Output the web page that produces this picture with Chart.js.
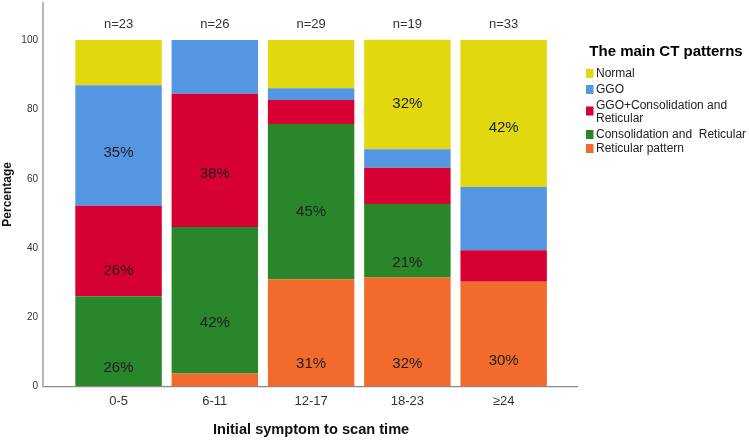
<!DOCTYPE html>
<html><head><meta charset="utf-8">
<script src="https://cdn.jsdelivr.net/npm/chart.js@4"></script>
<style>html,body{margin:0;padding:0;background:#fff}#wrap{width:749px;height:441px;position:relative}</style>
</head><body><div id="wrap"><canvas id="c" width="749" height="441"></canvas></div>
<script>
// ---- data (percent of patients in each time group) ----
const categories = ['0-5', '6-11', '12-17', '18-23', '\u226524'];
const sampleSizes = [23, 26, 29, 19, 33];
const reticularPattern = [0, 3.8, 31.0, 31.6, 30.3];
const consolidationReticular = [26.1, 42.3, 44.8, 21.1, 0];
const ggoConsolidationReticular = [26.1, 38.4, 6.9, 10.5, 9.1];
const ggo = [34.8, 15.5, 3.4, 5.3, 18.2];
const normal = [13.0, 0, 13.9, 31.6, 42.4];
const yTickValues = [0, 20, 40, 60, 80, 100];
const seriesNames = ['Reticular pattern', 'Consolidation and  Reticular', 'GGO+Consolidation and Reticular', 'GGO', 'Normal'];

// ---- styling ----
const colors = ['#F26A2C', '#29862B', '#D60032', '#5596E3', '#E2D810'];
const FONT = '"Liberation Sans", Arial, sans-serif';
// where inside its segment SPSS printed each percentage (fraction of the segment height from its base)
const labelAnchor = [
  [null, 0.22, 0.29, 0.45, null],
  [null, 0.35, 0.41, null, null],
  [0.22, 0.44, null, null, null],
  [0.22, 0.21, null, null, 0.42],
  [0.26, null, null, null, 0.41]
];

const seriesData = [reticularPattern, consolidationReticular, ggoConsolidationReticular, ggo, normal];
const datasets = seriesData.map((d, i) => ({
  label: seriesNames[i],
  data: d,
  backgroundColor: colors[i],
  borderWidth: 0,
  barPercentage: 0.898,
  categoryPercentage: 1.0
}));

const overlay = {
  id: 'overlay',
  afterDatasetsDraw(chart) {
    const ctx = chart.ctx, ca = chart.chartArea;
    const xs = chart.scales.x, ys = chart.scales.y;
    ctx.save();
    // axis lines
    ctx.strokeStyle = '#8a8a8a';
    ctx.lineWidth = 1.2;
    const axX = ca.left - 27.4, axY = ys.getPixelForValue(0);
    ctx.beginPath();
    ctx.moveTo(axX, ca.top);
    ctx.lineTo(axX, axY);
    ctx.lineTo(ca.right + 26.2, axY);
    ctx.stroke();

    // n= labels
    ctx.fillStyle = '#333';
    ctx.font = '13px ' + FONT;
    ctx.textAlign = 'center';
    ctx.textBaseline = 'middle';
    categories.forEach((c, i) => {
      ctx.fillText('n=' + sampleSizes[i], xs.getPixelForValue(i), ys.getPixelForValue(100) - 16);
    });

    // percentage labels
    ctx.fillStyle = '#1e1e1e';
    ctx.font = '15px ' + FONT;
    categories.forEach((c, i) => {
      let base = 0;
      seriesData.forEach((s, k) => {
        const v = s[i];
        if (v >= 20) {
          const f = labelAnchor[i][k] != null ? labelAnchor[i][k] : 0.5;
          const y = ys.getPixelForValue(base + v * f) + 1;
          ctx.fillText(Math.round(v) + '%', xs.getPixelForValue(i), y);
        }
        base += v;
      });
    });

    // legend
    ctx.textAlign = 'center';
    ctx.fillStyle = '#000';
    ctx.font = 'bold 15px ' + FONT;
    ctx.fillText('The main CT patterns', 666, 52);
    ctx.textAlign = 'left';
    ctx.font = '12px ' + FONT;
    const rows = [
      {k: 4, lines: ['Normal'], y: 74},
      {k: 3, lines: ['GGO'], y: 90},
      {k: 2, lines: ['GGO+Consolidation and', 'Reticular'], y: 106},
      {k: 1, lines: ['Consolidation and  Reticular'], y: 135},
      {k: 0, lines: ['Reticular pattern'], y: 149}
    ];
    rows.forEach(r => {
      const boxC = r.lines.length > 1 ? r.y + 5 : r.y - 0.5;
      ctx.fillStyle = colors[r.k];
      ctx.fillRect(586, boxC - 4.5, 7.5, 9);
      ctx.fillStyle = '#222';
      r.lines.forEach((t, j) => ctx.fillText(t, 596, r.y + j * 13));
    });
    ctx.restore();
  }
};

new Chart(document.getElementById('c'), {
  type: 'bar',
  data: { labels: categories, datasets },
  options: {
    responsive: false,
    animation: false,
    devicePixelRatio: 1,
    layout: { padding: { left: 0, top: 2, right: 197.2, bottom: 0 } },
    plugins: { legend: { display: false }, tooltip: { enabled: false } },
    scales: {
      x: {
        stacked: true,
        grid: { display: false, drawTicks: false },
        border: { display: false },
        ticks: { color: '#333', font: { size: 13, family: FONT }, padding: 7 },
        title: { display: true, text: 'Initial symptom to scan time', color: '#111',
                 font: { size: 14.6, weight: 'bold', family: FONT }, padding: { top: 0, bottom: 2 } },
        afterFit(s) { s.height = 54.3; s.paddingLeft = 0; s.paddingRight = 0; }
      },
      y: {
        stacked: true,
        min: 0,
        max: 111,
        grid: { display: false, drawTicks: false },
        border: { display: false },
        afterBuildTicks(s) { s.ticks = yTickValues.map(v => ({ value: v })); },
        ticks: { color: '#333', font: { size: 10, family: FONT }, padding: 32.4 },
        title: { display: true, text: 'Percentage', color: '#111',
                 font: { size: 12, weight: 'bold', family: FONT }, padding: { top: 0, bottom: 0 } },
        afterFit(s) { s.width = 70.4; s.paddingTop = 0; s.paddingBottom = 0; }
      }
    }
  },
  plugins: [overlay]
});
</script>
</body></html>
